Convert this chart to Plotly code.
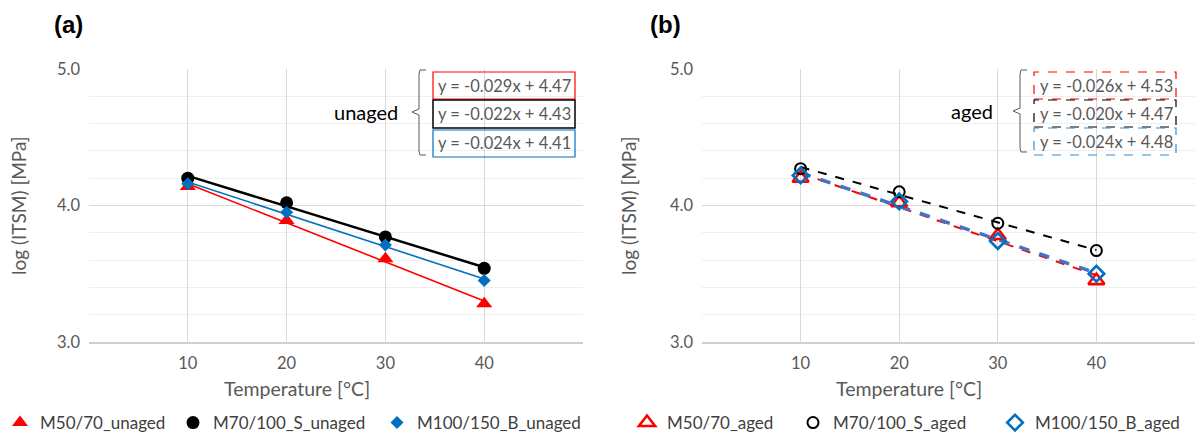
import numpy as np
import plotly.graph_objects as go

W, H = 1198, 438

# ---------------- data ----------------
temperature = [10, 20, 30, 40]

m50_unaged = [4.14, 3.89, 3.61, 3.28]
m70_unaged = [4.20, 4.02, 3.77, 3.54]
m100_unaged = [4.16, 3.95, 3.71, 3.45]

m50_aged = [4.20, 4.02, 3.78, 3.45]
m70_aged = [4.27, 4.10, 3.87, 3.67]
m100_aged = [4.22, 4.03, 3.74, 3.50]

names_unaged = ["M50/70_unaged", "M70/100_S_unaged", "M100/150_B_unaged"]
names_aged = ["M50/70_aged", "M70/100_S_aged", "M100/150_B_aged"]

eq_unaged = ["y = -0.029x + 4.47", "y = -0.022x + 4.43", "y = -0.024x + 4.41"]
eq_aged = ["y = -0.026x + 4.53", "y = -0.020x + 4.47", "y = -0.024x + 4.48"]

x_ticks = [0, 10, 20, 30, 40, 50]
x_ticktext = ["", "10", "20", "30", "40", ""]
y_ticks = [3.0, 4.0, 5.0]

# ---------------- helpers ----------------
def px(x):
    return x / W

def py(y):
    return 1 - y / H

RED = "#FF0000"
BLACK = "#000000"
BLUE = "#0070C0"
GRAY = "#595959"
FONT = "Lato"

fig = go.Figure()

def trend(xs, ys):
    k, b = np.polyfit(xs, ys, 1)
    xe = np.array([min(xs), max(xs)])
    return xe, k * xe + b

# ---------------- panel (a) ----------------
line_styles_a = [(RED, 1.6), (BLACK, 2.5), (BLUE, 1.6)]
marker_a = [("triangle-up", 14, RED), ("circle", 13, BLACK), ("diamond", 10, BLUE)]
series_a = [m50_unaged, m70_unaged, m100_unaged]

for (c, w), ys in zip(line_styles_a, series_a):
    xe, ye = trend(temperature, ys)
    fig.add_trace(go.Scatter(x=xe, y=ye, mode="lines", line=dict(color=c, width=w),
                             showlegend=False, hoverinfo="skip", xaxis="x", yaxis="y"))

legend_ids_a = ["legend", "legend2", "legend3"]
for (sym, sz, c), ys, nm, lg in zip(marker_a, series_a, names_unaged, legend_ids_a):
    fig.add_trace(go.Scatter(x=temperature, y=ys, mode="markers", name=nm,
                             marker=dict(symbol=sym, size=sz, color=c, line=dict(width=0)),
                             xaxis="x", yaxis="y", legend=lg))

# ---------------- panel (b) ----------------
line_styles_b = [(RED, 2.0, "dash"), (BLACK, 2.0, "dash"), ("#4472C4", 3.5, "dash")]
marker_b = [("triangle-up-open", 14, RED, 2.6), ("circle-open", 11, BLACK, 2.0), ("diamond-open", 12, BLUE, 2.6)]
series_b = [m50_aged, m70_aged, m100_aged]

for (c, w, d), ys in zip(line_styles_b, series_b):
    xe, ye = trend(temperature, ys)
    fig.add_trace(go.Scatter(x=xe, y=ye, mode="lines", line=dict(color=c, width=w, dash=d),
                             showlegend=False, hoverinfo="skip", xaxis="x2", yaxis="y2"))

legend_ids_b = ["legend4", "legend5", "legend6"]
for (sym, sz, c, lw), ys, nm, lg in zip(marker_b, series_b, names_aged, legend_ids_b):
    fig.add_trace(go.Scatter(x=temperature, y=ys, mode="markers", name=nm,
                             marker=dict(symbol=sym, size=sz, color=c, line=dict(width=lw, color=c)),
                             xaxis="x2", yaxis="y2", legend=lg))

# ---------------- axes ----------------
def xaxis(domain, anchor):
    return dict(domain=domain, anchor=anchor, range=[0, 50], tickvals=x_ticks, ticktext=x_ticktext,
                showgrid=True, gridcolor="#d9d9d9", gridwidth=1, zeroline=False,
                showline=True, linecolor="#d0d0d0", linewidth=1.5,
                ticks="", ticklabelstandoff=5,
                tickfont=dict(family=FONT, size=16.5, color=GRAY), fixedrange=True)

def yaxis(domain, anchor):
    return dict(domain=domain, anchor=anchor, range=[3, 5], tickvals=y_ticks, tickformat=".1f",
                showgrid=True, gridcolor="#d9d9d9", gridwidth=1, zeroline=False,
                showline=False, ticks="", ticklabelstandoff=8,
                minor=dict(dtick=0.2, tick0=3, showgrid=True, gridcolor="#efefef", gridwidth=1),
                tickfont=dict(family=FONT, size=16.5, color=GRAY), fixedrange=True)

ydom = [py(342), py(69)]

legend_common = dict(orientation="h", yanchor="middle", y=py(423), xanchor="left",
                     bgcolor="rgba(0,0,0,0)", borderwidth=0,
                     font=dict(family=FONT, size=17, color="#404040"))

legend_x = {"legend": 0, "legend2": 173, "legend3": 377,
            "legend4": 627, "legend5": 793, "legend6": 995}

layout_legends = {k: dict(legend_common, x=px(v)) for k, v in legend_x.items()}

fig.update_layout(
    width=W, height=H,
    margin=dict(l=0, r=0, t=0, b=0, autoexpand=False),
    paper_bgcolor="white", plot_bgcolor="white",
    xaxis=xaxis([px(89), px(583)], "y"),
    yaxis=yaxis(ydom, "x"),
    xaxis2=xaxis([px(702), px(1195)], "y2"),
    yaxis2=yaxis(ydom, "x2"),
    **layout_legends,
)

# ---------------- annotations ----------------
ann = []

def text(xp, yp, s, size, color=GRAY, bold=False, angle=0, family=FONT, xanchor="center"):
    ann.append(dict(x=px(xp), y=py(yp), xref="paper", yref="paper", text=("<b>%s</b>" % s) if bold else s,
                    showarrow=False, xanchor=xanchor, yanchor="middle", textangle=angle,
                    font=dict(family=family, size=size, color=color)))

text(68, 24, "(a)", 24, color="black", bold=True, family="Liberation Sans")
text(665, 24, "(b)", 24, color="black", bold=True, family="Liberation Sans")

text(297, 388, "Temperature [°C]", 19.5)
text(909, 388, "Temperature [°C]", 19.5)
text(18, 206, "log (ITSM) [MPa]", 19, angle=-90)
text(628, 206, "log (ITSM) [MPa]", 19, angle=-90)

text(366, 112, "unaged", 20, color="black")
text(972, 111, "aged", 20, color="black")

shapes = []

def rect(x0, y0, x1, y1, color, width, dash="solid"):
    shapes.append(dict(type="rect", xref="paper", yref="paper", x0=px(x0), x1=px(x1),
                       y0=py(y1), y1=py(y0), line=dict(color=color, width=width, dash=dash)))

boxes_a = [(72, 99), (100, 128), (130, 157)]
colors_a = [(RED, 1.2), (BLACK, 1.5), (BLUE, 1.2)]
for (y0, y1), (c, w), s in zip(boxes_a, colors_a, eq_unaged):
    rect(433, y0, 575, y1, c, w)
    text(504, (y0 + y1) / 2, s, 16.5)

boxes_b = [(72, 99), (100, 127), (128, 155)]
colors_b = [(RED, 1.2), (BLACK, 1.2), ("#2F8FD8", 1.2)]
for (y0, y1), (c, w), s in zip(boxes_b, colors_b, eq_aged):
    rect(1034, y0, 1176, y1, c, w, "dash")
    text(1106, (y0 + y1) / 2, s, 16.5)

def brace(x, y0, y1, ym):
    pts = [(x + 7, y0), (x + 1, y0), (x, y0 + 4), (x, ym - 3), (x - 7, ym), (x, ym + 3),
           (x, y1 - 4), (x + 1, y1), (x + 7, y1)]
    path = "M " + " L ".join("%.5f,%.5f" % (px(a), py(b)) for a, b in pts)
    shapes.append(dict(type="path", xref="paper", yref="paper", path=path,
                       line=dict(color=GRAY, width=1)))

brace(419, 70, 155, 112)
brace(1020, 70, 152, 111)

fig.update_layout(annotations=ann, shapes=shapes)

fig.write_html("out.html",
               config={"displayModeBar": False},
               post_script="document.body.style.margin='0';document.body.style.padding='0';")
